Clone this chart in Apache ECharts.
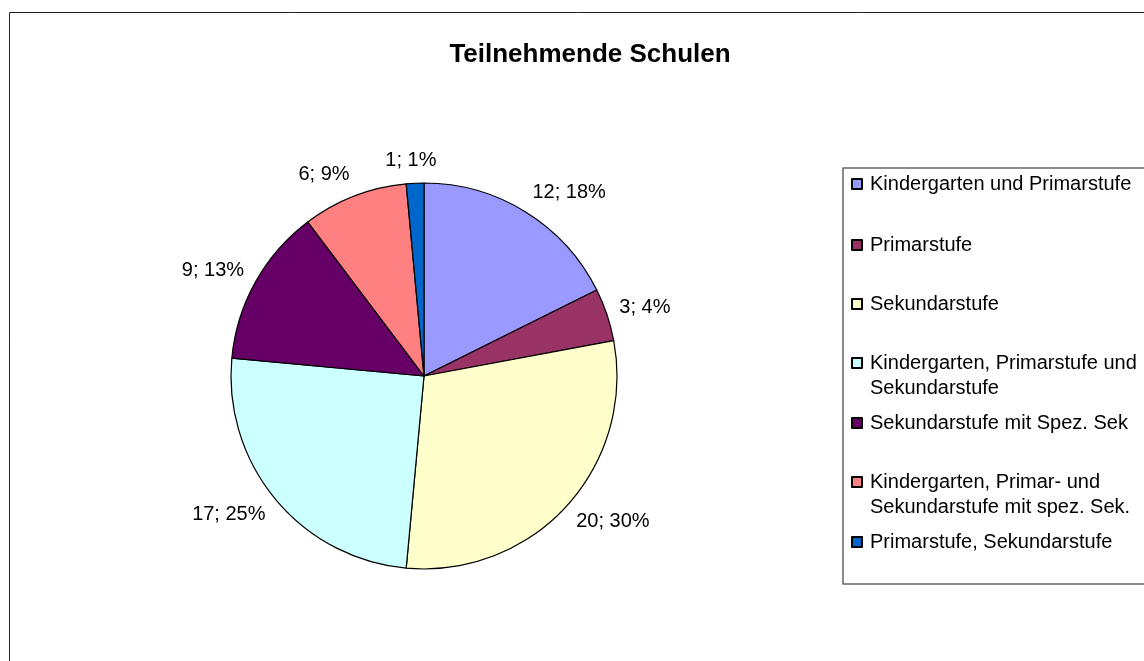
<!DOCTYPE html>
<html>
<head>
<meta charset="utf-8">
<script src="https://cdn.jsdelivr.net/npm/echarts@6/dist/echarts.min.js"></script>
<style>
    html, body { margin: 0; padding: 0; background: #fff; }
    #chart { width: 1144px; height: 661px; }
</style>
</head>
<body>
<div id="chart"></div>
<script>
    // Kategorien (Legende)
    let categories = [
        'Kindergarten und Primarstufe',
        'Primarstufe',
        'Sekundarstufe',
        'Kindergarten, Primarstufe und Sekundarstufe',
        'Sekundarstufe mit Spez. Sek',
        'Kindergarten, Primar- und Sekundarstufe mit spez. Sek.',
        'Primarstufe, Sekundarstufe'
    ];
    // Anzahl Schulen
    let counts = [12, 3, 20, 17, 9, 6, 1];
    // Prozentwerte wie im Bild beschriftet
    let percents = [18, 4, 30, 25, 13, 9, 1];
    // Zeilenumbruch in der Legende
    let legendLines = [
        ['Kindergarten und Primarstufe'],
        ['Primarstufe'],
        ['Sekundarstufe'],
        ['Kindergarten, Primarstufe und', 'Sekundarstufe'],
        ['Sekundarstufe mit Spez. Sek'],
        ['Kindergarten, Primar- und', 'Sekundarstufe mit spez. Sek.'],
        ['Primarstufe, Sekundarstufe']
    ];
    let colors = ['#9999ff', '#993366', '#ffffcc', '#ccffff', '#660066', '#ff8080', '#0066cc'];

    // y-Mitte der ersten Zeile jedes Legendeneintrags
    let legendY = [184, 245, 304, 363, 423, 482, 542];

    let pieCenter = [424, 376];
    let pieRadius = 193;
    let labelRadius = 206;

    let chart = echarts.init(document.getElementById('chart'));

    let legends = categories.map(function (name, i) {
        let twoLines = legendLines[i].length > 1;
        return {
            data: [name],
            orient: 'vertical',
            left: 851,
            top: legendY[i] - 12.5 - (twoLines ? 25 : 0),
            padding: 0,
            icon: 'rect',
            itemWidth: 10,
            itemHeight: 10,
            selectedMode: false,
            formatter: function () {
                // Leerzeile oben, damit das Symbol auf Höhe der ersten Zeile steht
                return twoLines ? ' \n' + legendLines[i].join('\n') : legendLines[i][0];
            },
            textStyle: {
                fontFamily: 'Liberation Sans, Arial, sans-serif',
                fontSize: 20,
                lineHeight: 25,
                color: '#000',
                padding: [0, 0, 0, 3]
            }
        };
    });

    // Mittelwinkel jedes Segments (im Uhrzeigersinn ab oben)
    let total = counts.reduce(function (a, b) { return a + b; }, 0);
    function midAngle(i) {
        let before = 0;
        for (let k = 0; k < i; k++) before += counts[k];
        return (before + counts[i] / 2) / total * Math.PI * 2;
    }
    function clamp(v) { return Math.max(-1, Math.min(1, v)); }

    chart.setOption({
        animation: false,
        color: colors,
        title: {
            text: 'Teilnehmende Schulen',
            left: 585,
            top: 37,
            textAlign: 'center',
            textStyle: {
                fontFamily: 'Liberation Sans, Arial, sans-serif',
                fontSize: 26,
                fontWeight: 'bold',
                color: '#000'
            }
        },
        legend: legends,
        graphic: [
            {
                // Diagrammrahmen
                type: 'rect',
                shape: { x: 9.5, y: 12.5, width: 1200, height: 700 },
                style: { fill: 'none', stroke: '#222', lineWidth: 1 },
                silent: true
            },
            {
                // Legendenrahmen
                type: 'rect',
                shape: { x: 843, y: 168, width: 400, height: 416 },
                style: { fill: 'none', stroke: '#666', lineWidth: 1.5 },
                silent: true
            }
        ],
        series: [
            {
                name: 'Teilnehmende Schulen',
                type: 'pie',
                center: pieCenter,
                radius: pieRadius,
                startAngle: 90,
                clockwise: true,
                avoidLabelOverlap: false,
                itemStyle: {
                    borderColor: '#000',
                    borderWidth: 1.2
                },
                label: {
                    show: true,
                    position: 'outside',
                    fontFamily: 'Liberation Sans, Arial, sans-serif',
                    fontSize: 20,
                    color: '#000',
                    formatter: function (p) {
                        return p.value + '; ' + percents[p.dataIndex] + '%';
                    }
                },
                labelLine: {
                    show: false
                },
                // Beschriftung wie in Excel ausserhalb des Segments
                labelLayout: function (params) {
                    let a = midAngle(params.dataIndex);
                    let s = Math.sin(a), c = Math.cos(a);
                    let w = params.labelRect.width, h = 20;
                    return {
                        x: pieCenter[0] + labelRadius * s + clamp(3 * s) * w / 2,
                        y: pieCenter[1] - labelRadius * c - c * h / 2,
                        align: 'center',
                        verticalAlign: 'middle'
                    };
                },
                emphasis: { disabled: true },
                data: categories.map(function (name, i) {
                    return { name: name, value: counts[i] };
                })
            }
        ]
    });
</script>
</body>
</html>
